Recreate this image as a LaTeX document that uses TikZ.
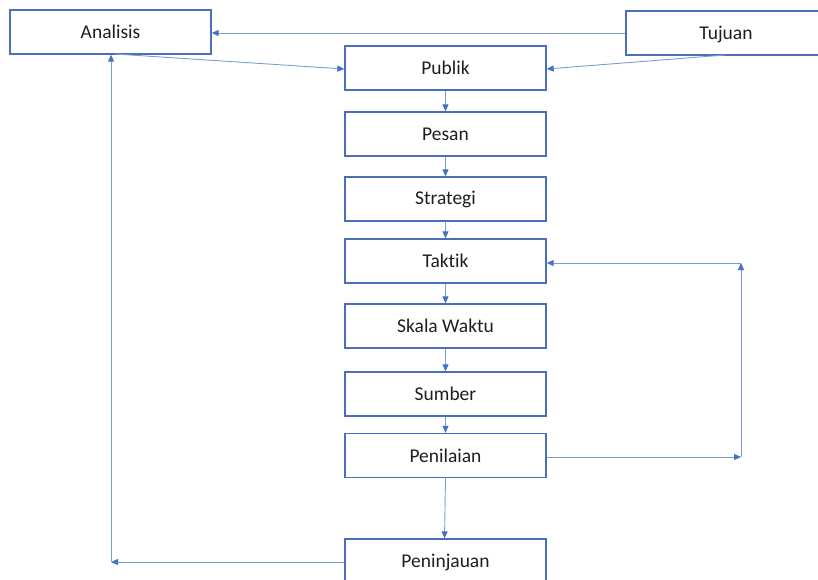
\documentclass[tikz,border=0pt]{standalone}
\usepackage{fontspec}
\setmainfont{Carlito}[Ligatures={NoCommon}]
\usetikzlibrary{arrows.meta}
\definecolor{boxblue}{HTML}{4A6FB8}
\definecolor{linkblue}{HTML}{7C9CD8}
\definecolor{tipblue}{HTML}{4472C4}
\definecolor{txt}{HTML}{1E1E1E}
\tikzset{
  box/.style={draw=boxblue, line width=1.3pt, fill=white, minimum width=201pt, minimum height=44pt, inner sep=0pt, font=\fontsize{19.5}{21}\selectfont, text=txt},
  boxtext/.style={font=\fontsize{19.5}{21}\selectfont, text=txt, inner sep=0pt},
  link/.style={draw=linkblue, line width=0.9pt, -{Triangle[length=7pt,width=6pt,color=tipblue]}}
}
\begin{document}
\begin{tikzpicture}[x=1pt,y=-1pt]
\useasboundingbox (0,0) rectangle (818,580);
\node[box] (analisis) at (110.5,32) {Analisis};
\node[box, minimum width=202pt] (tujuanbox) at (727,33) {};
\node[boxtext] (tujuan) at (726,34) {Tujuan};
\node[box] (publik) at (445.5,68) {Publik};
\node[box] (pesan) at (445.5,134) {Pesan};
\node[box] (strategi) at (445.5,199) {Strategi};
\node[box] (taktik) at (445.5,261) {Taktik};
\node[box] (skala) at (445.5,326) {Skala Waktu};
\node[box] (sumber) at (445.5,394) {Sumber};
\node[box] (penilaian) at (445.5,455.5) {Penilaian};
\node[box, minimum height=60pt] (peninjauan) at (445.5,569) {};
\node[boxtext] (peninjauantext) at (445.5,562) {Peninjauan};
\coordinate (rbot) at (741,457);
\coordinate (rtop) at (741,263);
\coordinate (lbot) at (111,562);
% top connectors
\draw[link] (tujuanbox.west |- 0,33) -- (analisis.east |- 0,33);
\draw[link] (115,54) -- (publik.west |- 0,69);
\draw[link] (725,55) -- (publik.east |- 0,69);
% vertical chain
\draw[link] (publik) -- (pesan);
\draw[link] (pesan) -- (strategi);
\draw[link] (strategi) -- (taktik);
\draw[link] (taktik) -- (skala);
\draw[link] (skala) -- (sumber);
\draw[link] (sumber) -- (penilaian);
\draw[link] (penilaian.south) -- (peninjauan.north -| 444.5,0);
% feedback loop right
\draw[link] (penilaian.east |- rbot) -- (rbot);
\draw[link] (rbot) -- (rtop);
\draw[link] (rtop) -- (taktik.east |- rtop);
% feedback loop left
\draw[link] (peninjauan.west |- lbot) -- (lbot);
\draw[link] (lbot) -- (lbot |- analisis.south);
\end{tikzpicture}
\end{document}
